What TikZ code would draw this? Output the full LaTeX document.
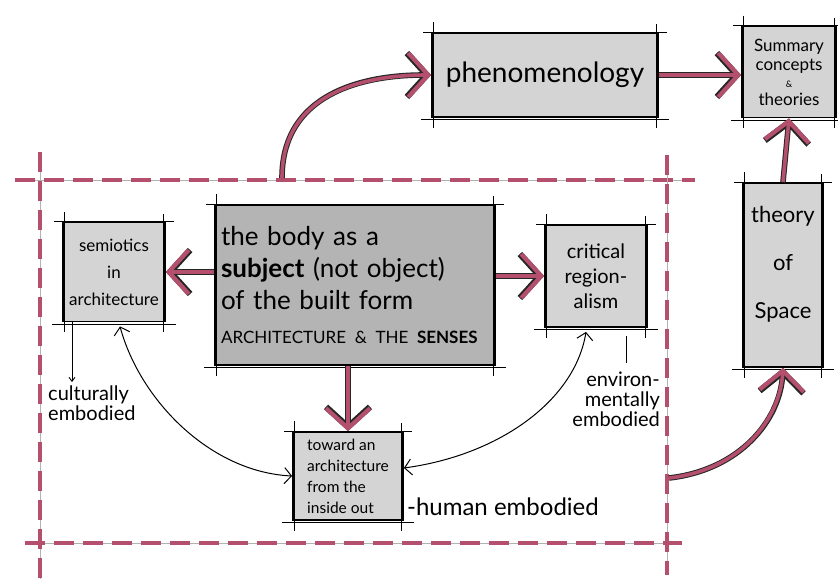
\documentclass[tikz,border=0pt]{standalone}
\usepackage{fontspec}
\setmainfont{Lato}
\usetikzlibrary{calc,arrows.meta,positioning}
\definecolor{rosepink}{HTML}{B4506E}
\definecolor{boxgray}{HTML}{D4D4D4}
\definecolor{bodygray}{HTML}{B4B4B4}

\begin{document}
\begin{tikzpicture}[
 x=1pt, y=-1pt,
 sbox/.style={draw, line width=1.8pt, fill=#1, inner sep=3pt, align=center},
 over/.style={line width=1pt},
 rarr/.style={rosepink, line width=3.6pt,
   -{Straight Barb[length=20pt,width=44pt,line width=4.2pt]},
   preaction={draw=black!85, line width=5.6pt,
     -{Straight Barb[length=20pt,width=44pt,line width=6.2pt]}}},
 tarr/.style={line width=1pt, {Straight Barb[length=7pt,width=16pt]}-{Straight Barb[length=7pt,width=16pt]}},
 frame/.style={rosepink, line width=3.4pt, dash pattern=on 20pt off 9pt,
   preaction={draw=black!30, line width=0.5pt, solid}},
 note/.style={font=\fontsize{#1}{20}\selectfont, align=left, inner sep=0pt}
]
\useasboundingbox (0,0) rectangle (838,579);

% Dashed frame
\draw[frame] (15,180) -- (695,180);
\draw[frame] (25,543) -- (682,543);
\draw[frame] (40,152) -- (40,579);
\draw[frame] (667,155) -- (667,575);
\coordinate (ftop) at (282,178);
\coordinate (fright) at (669,478);

% Boxes
\node[sbox=boxgray, minimum width=226pt, minimum height=84pt,
  font=\fontsize{28}{32}\selectfont] (phen) at (545,75) {phenomenology};
\node[sbox=boxgray, minimum width=94pt, minimum height=91pt, inner sep=1pt,
  font=\fontsize{17}{19}\selectfont] (summ) at (789,72)
  {Summary\\concepts\\[-2pt]{\fontsize{9}{9}\selectfont\&}\\[-1pt]theories};
\node[sbox=boxgray, minimum width=80pt, minimum height=184pt,
  font=\fontsize{22}{48}\selectfont] (theo) at (783,275)
  {theory\\of\\Space\\[-22pt]\mbox{}};
\node[sbox=bodygray, minimum width=280pt, minimum height=160pt, align=left,
  text width=268pt, font=\fontsize{26}{32}\selectfont] (body) at (355,285)
  {the body as a\\\textbf{subject} (not object)\\of the built form\\[2pt]
   {\fontsize{17}{20}\selectfont ARCHITECTURE \& THE \textbf{SENSES}}};
\node[sbox=boxgray, minimum width=102pt, minimum height=99pt, inner sep=1pt,
  font=\fontsize{17}{27}\selectfont] (semi) at (114,272)
  {semiotics\\in\\architecture};
\node[sbox=boxgray, minimum width=102pt, minimum height=102pt,
  font=\fontsize{20}{25}\selectfont] (crit) at (596,276)
  {critical\\region-\\alism};
\node[sbox=boxgray, minimum width=110pt, minimum height=88pt, align=left, inner sep=1pt,
  font=\fontsize{15.5}{21}\selectfont] (tow) at (348,476)
  {toward an\\architecture\\from the\\inside out};

% Sketchy overshoot of box edges
\foreach \b in {phen,summ,theo,body,semi,crit,tow}{
  \draw[over] ($(\b.north west)+(-8,0)$) -- ($(\b.north east)+(8,0)$);
  \draw[over] ($(\b.south west)+(-10,2)$) -- ($(\b.south east)+(10,2)$);
  \draw[over] ($(\b.north west)+(2,-10)$) -- ($(\b.south west)+(2,10)$);
  \draw[over] ($(\b.north east)+(-2,-8)$) -- ($(\b.south east)+(-2,10)$);
}

% Pink connectors
\draw[rarr] (phen.east) -- (phen.east -| summ.west);
\draw[rarr] (theo.north) -- (summ.south);
\draw[rarr] (ftop) .. controls (282,95) and (360,75) .. (phen.west);
\draw[rarr] (fright) .. controls (740,470) and (780,420) .. (theo.south);
\draw[rarr] (body.west |- semi.east) -- (semi.east);
\draw[rarr] (body.east |- crit.west) -- (crit.west);
\draw[rarr] (tow.north |- body.south) -- (tow.north);

% Thin connectors
\draw[tarr] ($(semi.south)+(6,4)$) .. controls (140,400) and (210,472) .. (tow.west);
\draw[tarr] ($(crit.south)+(-10,4)$) .. controls (575,400) and (500,455) .. ($(tow.east)+(0,-8)$);
\coordinate (cdown) at (72,382);
\draw[line width=0.9pt, -{Straight Barb[length=4pt,width=6pt]}] (semi.south west -| cdown) -- (cdown);
\coordinate (edown) at (626,363);
\draw[line width=1pt] ($(crit.south east -| edown)+(0,8)$) -- (edown);

% Annotations
\node[note=20, anchor=north west] (cult) at (48,386) {culturally\\embodied};
\node[note=20, anchor=north east, align=right] (env) at (660,372) {environ-\\mentally\\embodied};
\node[note=24, anchor=west] (hum) at ($(tow.south east)+(3,-14)$) {-human embodied};
\end{tikzpicture}
\end{document}
